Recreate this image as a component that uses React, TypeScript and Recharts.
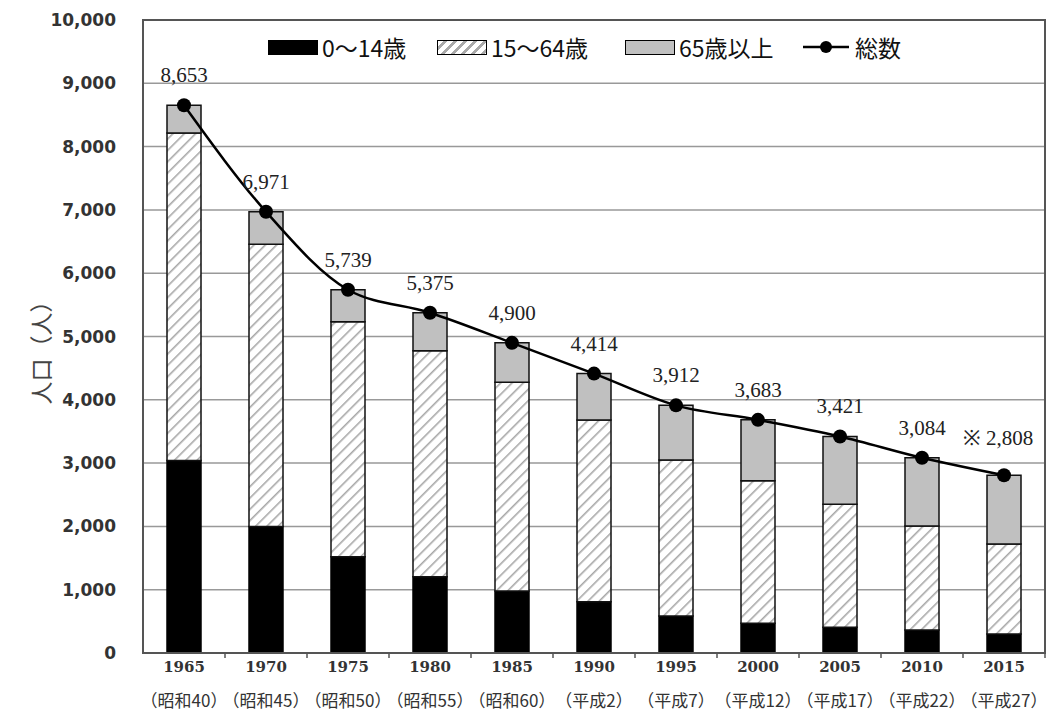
import React from 'react';
import { ComposedChart, Bar, Line, XAxis, YAxis, CartesianGrid, Legend, LabelList, ReferenceArea } from 'recharts';

const years = ['1965', '1970', '1975', '1980', '1985', '1990', '1995', '2000', '2005', '2010', '2015'];
const eras = ['（昭和40）', '（昭和45）', '（昭和50）', '（昭和55）', '（昭和60）', '（平成2）', '（平成7）', '（平成12）', '（平成17）', '（平成22）', '（平成27）'];
const age0to14 = [3040, 2000, 1520, 1205, 980, 810, 585, 470, 405, 365, 300];
const age15to64 = [5175, 4457, 3714, 3571, 3296, 2870, 2464, 2252, 1944, 1641, 1422];
const age65plus = [438, 514, 505, 599, 624, 734, 863, 961, 1072, 1078, 1086];
const totals = [8653, 6971, 5739, 5375, 4900, 4414, 3912, 3683, 3421, 3084, 2808];
const totalPrefix = ['', '', '', '', '', '', '', '', '', '', '※ '];
const yTicks = [0, 1000, 2000, 3000, 4000, 5000, 6000, 7000, 8000, 9000, 10000];

const data = years.map((year, i) => ({
  year,
  young: age0to14[i],
  working: age15to64[i],
  elderly: age65plus[i],
  total: totals[i],
}));

const BAND_HALF = 41;

const XTick = (props: any) => {
  const { x, y, payload, index } = props;
  return (
    <g>
      <line x1={x + BAND_HALF} y1={y} x2={x + BAND_HALF} y2={y + 5} stroke="#555" strokeWidth={1.5} />
      <text x={x} y={y + 19} textAnchor="middle" fontFamily='"DejaVu Serif"' fontWeight="bold" fontSize={15} fill="#333">
        {payload.value}
      </text>
      <text x={x} y={y + 54} textAnchor="middle" fontFamily='"Noto Sans CJK JP"' fontSize={17} fill="#333">
        {eras[index]}
      </text>
    </g>
  );
};

const YLabel = () => (
  <text x={40} y={347} transform="rotate(-90 40 347)" textAnchor="middle" dominantBaseline="central"
    fontFamily='"Noto Sans CJK JP"' fontSize={23} fill="#444">
    人口（人）
  </text>
);

const TotalLabel = (props: any) => {
  const { x, y, index } = props;
  const prefix = totalPrefix[index];
  return (
    <text x={prefix ? x - 6 : x} y={prefix ? y - 30 : y - 23} textAnchor="middle"
      fontFamily='"Liberation Serif"' fontSize={21} fill="#222">
      {prefix + totals[index].toLocaleString('en-US')}
    </text>
  );
};

const swatchBox: React.CSSProperties = { width: 50, height: 15, border: '1px solid #000', boxSizing: 'border-box', marginRight: 4 };

const LegendContent = () => (
  <div style={{ display: 'flex', alignItems: 'center', paddingLeft: 268, height: 26, fontFamily: '"Noto Sans CJK JP"', fontSize: 23, color: '#111', lineHeight: '26px' }}>
    <div style={{ display: 'flex', alignItems: 'center', width: 169 }}>
      <div style={{ ...swatchBox, background: '#000' }} />
      <span>0～14歳</span>
    </div>
    <div style={{ display: 'flex', alignItems: 'center', width: 188 }}>
      <div style={{ ...swatchBox, background: 'repeating-linear-gradient(135deg, #fff 0px, #fff 4px, #aaa 4px, #aaa 7px)' }} />
      <span>15～64歳</span>
    </div>
    <div style={{ display: 'flex', alignItems: 'center', width: 178 }}>
      <div style={{ ...swatchBox, background: '#c0c0c0' }} />
      <span>65歳以上</span>
    </div>
    <div style={{ display: 'flex', alignItems: 'center' }}>
      <svg width={48} height={16} style={{ marginRight: 4 }}>
        <line x1={0} y1={8} x2={46} y2={8} stroke="#000" strokeWidth={2.5} />
        <circle cx={23} cy={8} r={6} fill="#000" />
      </svg>
      <span>総数</span>
    </div>
  </div>
);

export default function App() {
  return (
    <div style={{ position: 'absolute', left: 0, top: 0, background: '#fff' }}>
      <ComposedChart width={1046} height={713} data={data} margin={{ top: 20, right: 1, bottom: 0, left: 0 }} barSize={34}>
        <defs>
          <pattern id="hatch" width={8} height={8} patternUnits="userSpaceOnUse" patternTransform="rotate(45)">
            <rect width={8} height={8} fill="#fff" />
            <line x1={0} y1={0} x2={0} y2={8} stroke="#a8a8a8" strokeWidth={3.2} />
          </pattern>
        </defs>
        <CartesianGrid vertical={false} stroke="#999" strokeWidth={1.5} />
        <ReferenceArea y1={0} y2={10000} fill="none" stroke="#555" strokeWidth={2} ifOverflow="visible" />
        <XAxis dataKey="year" height={60} tickSize={0} tickMargin={0} tickLine={false}
          axisLine={{ stroke: '#555', strokeWidth: 2 }} tick={<XTick />} interval={0} />
        <YAxis domain={[0, 10000]} ticks={yTicks} width={143} tickSize={0} tickMargin={27} tickLine={false}
          axisLine={{ stroke: '#555', strokeWidth: 2 }}
          tickFormatter={(v: number) => v.toLocaleString('en-US')}
          tick={{ fontFamily: '"DejaVu Sans"', fontSize: 17, fontWeight: 'bold', fill: '#333' }}
          label={<YLabel />} />
        <Legend verticalAlign="middle" align="center" content={<LegendContent />}
          wrapperStyle={{ top: 34, left: 0, width: 1046 }} />
        <Bar dataKey="young" stackId="a" fill="#000" stroke="#000" strokeWidth={1.5} isAnimationActive={false} />
        <Bar dataKey="working" stackId="a" fill="url(#hatch)" stroke="#111" strokeWidth={1.5} isAnimationActive={false} />
        <Bar dataKey="elderly" stackId="a" fill="#c0c0c0" stroke="#111" strokeWidth={1.5} isAnimationActive={false} />
        <Line dataKey="total" type="monotone" stroke="#000" strokeWidth={2.5}
          dot={{ r: 7, fill: '#000', stroke: '#000', strokeWidth: 0 }} isAnimationActive={false}>
          <LabelList dataKey="total" content={<TotalLabel />} />
        </Line>
      </ComposedChart>
    </div>
  );
}
